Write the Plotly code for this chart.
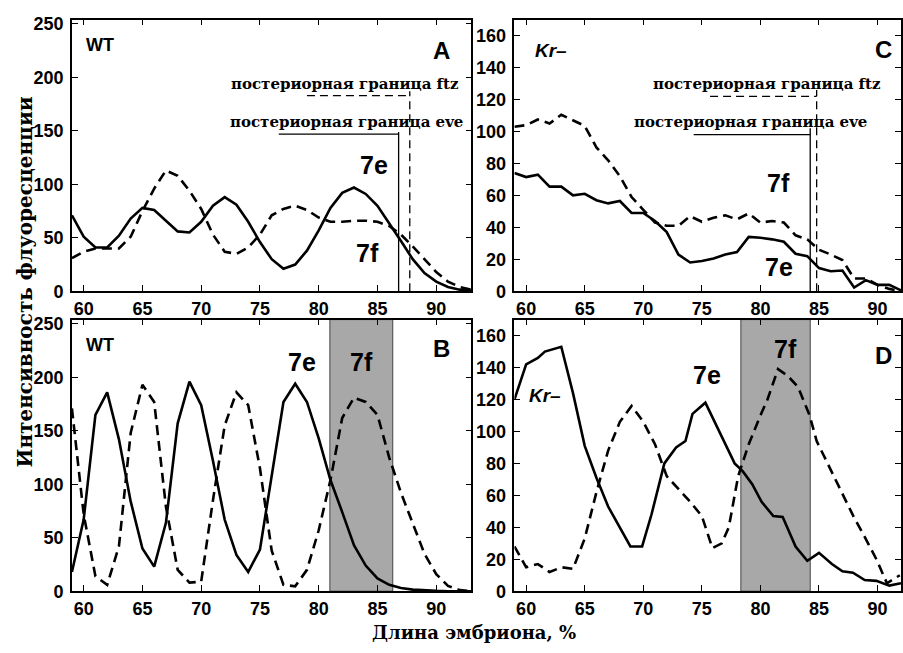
import plotly.graph_objects as go

W, H = 903, 653

# ---------------- data ----------------
x_A = list(range(59, 94))
wt_eve_A = [71, 51, 41, 41, 52, 68, 78, 76, 66, 56, 55, 65, 80, 88, 81, 65, 46, 30, 21, 25,
            38, 57, 78, 92, 97, 91, 80, 64, 47, 30, 17, 9, 4, 1.5, 1]
wt_ftz_A = [31, 37, 40, 40, 40, 51, 75, 96, 113, 108, 94, 77, 53, 37, 35, 41, 53, 71, 77, 80,
            76, 69, 65, 65, 66, 66, 65, 61, 53, 42, 30, 18, 9, 4, 1.5]

x_B = list(range(59, 94))
wt_eve_B = [18, 67, 165, 186, 142, 84, 40, 23, 64, 157, 196, 174, 122, 67, 34, 18, 39, 110, 177, 194,
            177, 143, 104, 74, 43, 24, 12, 6, 3, 1.5, 0.7, 0.3, 0, 0, 0]
wt_ftz_B = [171, 72, 14, 6, 42, 148, 193, 177, 79, 20, 8, 9, 85, 155, 186, 174, 115, 38, 6, 4.6,
            20, 57, 104, 162, 181, 177, 165, 125, 92, 63, 35, 16, 5, 1, 0]

x_C = list(range(59, 93))
kr_eve_C = [74, 71.5, 73, 65.5, 65.5, 60, 61, 57, 55, 56.5, 49, 49, 44, 37, 23, 18, 19, 20.5, 23, 24.5,
            34, 33.5, 32.5, 31, 23.5, 22, 14.5, 12.5, 13, 2.3, 7, 4, 4, 0.6]
kr_ftz_C = [103, 104, 107.5, 105, 110.5, 107, 103.5, 90, 82, 72, 59, 51, 43, 41, 41, 47, 43.5, 46, 47.5, 45,
            48.7, 43, 44, 43, 35, 32.5, 26, 23, 19.5, 8, 8, 4, 1.5, 0]

x_D_eve = [59, 60, 61, 61.6, 63, 64, 65, 66, 67, 68, 68.9, 69.9, 70.7, 71.8, 72.8, 73.6, 74.2, 75.3,
           76.5, 77.8, 78.5, 79.3, 80.1, 81.1, 81.9, 83, 84, 85, 86.1, 87, 87.9, 88.9, 89.9, 91, 92]
kr_eve_D = [120, 142, 146, 150, 153, 124, 91, 71, 53, 40, 28, 28, 48, 80, 90, 94, 111, 118,
            100, 80, 75, 67, 56, 47, 46.5, 28, 19, 24, 17, 12.5, 11.6, 7, 6.5, 3.5, 5]
x_D_ftz = [59, 60, 61, 62, 63, 64, 65, 66, 67, 68, 69, 70, 71, 72, 73, 74, 75, 75.9, 76.7, 77.3,
           78.1, 79, 80, 80.6, 81.5, 82.3, 83.2, 84.2, 84.8, 85.6, 86.4, 87.2, 88, 88.9, 89.9, 90.8, 91.9]
kr_ftz_D = [28, 15, 17, 12, 15, 14, 33, 62, 88, 106, 116, 106, 92, 72, 64, 56, 47, 27, 30, 40,
            72, 92, 110, 120, 139, 135, 128, 110, 94, 82, 70, 58, 46, 34, 20, 5, 10]

# boundaries / bands (x in % embryo length)
band_B = [80.95, 86.3]
band_D = [78.33, 84.25]
bound_A = {"eve": 86.8, "ftz": 87.75}
bound_C = {"eve": 84.25, "ftz": 84.8}

x_ticks = [60, 65, 70, 75, 80, 85, 90]
y_ticks_wt = [0, 50, 100, 150, 200, 250]
y_ticks_kr = [0, 20, 40, 60, 80, 100, 120, 140, 160]

# ---------------- figure ----------------
def px(x):
    return x / W

def py(y):
    return 1 - y / H

fig = go.Figure()

solid = dict(color="black", width=2.6)
dashed = dict(color="black", width=2.6, dash="10px,6px")

fig.add_trace(go.Scatter(x=x_A, y=wt_eve_A, mode="lines", line=solid, xaxis="x", yaxis="y"))
fig.add_trace(go.Scatter(x=x_A, y=wt_ftz_A, mode="lines", line=dashed, xaxis="x", yaxis="y"))
fig.add_trace(go.Scatter(x=x_C, y=kr_eve_C, mode="lines", line=solid, xaxis="x2", yaxis="y2"))
fig.add_trace(go.Scatter(x=x_C, y=kr_ftz_C, mode="lines", line=dashed, xaxis="x2", yaxis="y2"))
fig.add_trace(go.Scatter(x=x_B, y=wt_eve_B, mode="lines", line=solid, xaxis="x3", yaxis="y3"))
fig.add_trace(go.Scatter(x=x_B, y=wt_ftz_B, mode="lines", line=dashed, xaxis="x3", yaxis="y3"))
fig.add_trace(go.Scatter(x=x_D_eve, y=kr_eve_D, mode="lines", line=solid, xaxis="x4", yaxis="y4"))
fig.add_trace(go.Scatter(x=x_D_ftz, y=kr_ftz_D, mode="lines", line=dashed, xaxis="x4", yaxis="y4"))

tickfont = dict(family="Liberation Sans", size=18, color="black", weight="bold")

def xax(dom, rng, anchor):
    return dict(domain=dom, range=rng, anchor=anchor, showgrid=False, zeroline=False,
                showline=True, linecolor="black", linewidth=1.6, mirror="ticks",
                ticks="inside", ticklen=6, tickwidth=1.2, tickcolor="black",
                tickvals=x_ticks, tickfont=tickfont, ticklabelstandoff=0)

def yax(dom, rng, anchor, tv):
    return dict(domain=dom, range=rng, anchor=anchor, showgrid=False, zeroline=False,
                showline=True, linecolor="black", linewidth=1.6, mirror="ticks",
                ticks="inside", ticklen=6, tickwidth=1.2, tickcolor="black",
                tickvals=tv, tickfont=tickfont, ticklabelstandoff=3)

dom_left = [px(72), px(472)]
dom_right = [px(515), px(902)]
dom_top = [py(293), py(15)]
dom_bot = [py(600), py(322)]

fig.update_layout(
    width=W, height=H, margin=dict(l=0, r=0, t=0, b=0),
    paper_bgcolor="white", plot_bgcolor="white", showlegend=False,
    xaxis=xax(dom_left, [59, 93], "y"),
    yaxis=yax(dom_top, [0, 254], "x", y_ticks_wt),
    xaxis2=xax(dom_right, [59, 92], "y2"),
    yaxis2=yax(dom_top, [0, 170], "x2", y_ticks_kr),
    xaxis3=xax(dom_left, [59, 93], "y3"),
    yaxis3=yax(dom_bot, [0, 254], "x3", y_ticks_wt),
    xaxis4=xax(dom_right, [59, 92], "y4"),
    yaxis4=yax(dom_bot, [0, 170], "x4", y_ticks_kr),
)

shapes = []
# shaded bands
shapes.append(dict(type="rect", xref="x3", yref="y3 domain", x0=band_B[0], x1=band_B[1], y0=0, y1=1,
                   fillcolor="#a8a8a8", line=dict(color="#444", width=1), layer="below"))
shapes.append(dict(type="rect", xref="x4", yref="y4 domain", x0=band_D[0], x1=band_D[1], y0=0, y1=1,
                   fillcolor="#a8a8a8", line=dict(color="#444", width=1), layer="below"))

thin = dict(color="black", width=1.3)
thin_d = dict(color="black", width=1.3, dash="8px,5px")
# panel A boundaries
shapes += [
    dict(type="line", xref="x", yref="y", x0=bound_A["eve"], x1=bound_A["eve"], y0=0, y1=149, line=thin),
    dict(type="line", xref="x", yref="y", x0=76.6, x1=bound_A["eve"], y0=147, y1=147, line=thin),
    dict(type="line", xref="x", yref="y", x0=bound_A["ftz"], x1=bound_A["ftz"], y0=0, y1=187, line=thin_d),
    dict(type="line", xref="x", yref="y", x0=79.0, x1=bound_A["ftz"], y0=183, y1=183, line=thin_d),
]
# panel C boundaries
shapes += [
    dict(type="line", xref="x2", yref="y2", x0=bound_C["eve"], x1=bound_C["eve"], y0=0, y1=102, line=thin),
    dict(type="line", xref="x2", yref="y2", x0=74.3, x1=bound_C["eve"], y0=98, y1=98, line=thin),
    dict(type="line", xref="x2", yref="y2", x0=bound_C["ftz"], x1=bound_C["ftz"], y0=0, y1=126, line=thin_d),
    dict(type="line", xref="x2", yref="y2", x0=75.7, x1=bound_C["ftz"], y0=122, y1=122, line=thin_d),
]
fig.update_layout(shapes=shapes)

sans = "Liberation Sans"
serif = "DejaVu Serif"

def ann(text, x, y, size, family=sans, bold=True, angle=0):
    fig.add_annotation(text=text, x=px(x), y=py(y), xref="paper", yref="paper",
                       showarrow=False, xanchor="center", yanchor="middle", textangle=angle,
                       font=dict(family=family, size=size, color="black",
                                 weight="bold" if bold else "normal"))

# panel labels
ann("A", 441.5, 46.5, 24)
ann("B", 441.5, 351.5, 24)
ann("C", 884, 46, 24)
ann("D", 884, 358.5, 24)
ann("WT", 100, 41, 18)
ann("WT", 100, 347.5, 18)
ann("<i>Kr–</i>", 551.5, 47, 19)
ann("<i>Kr–</i>", 545.5, 400, 19)
ann("7e", 374.5, 163.5, 25)
ann("7f", 368, 254, 25)
ann("7e", 302.5, 365.5, 25)
ann("7f", 361.5, 365.5, 25)
ann("7f", 779, 182, 25)
ann("7e", 779.5, 268.5, 25)
ann("7e", 707.5, 378.5, 25)
ann("7f", 786, 352.5, 25)

# boundary captions
ann("постериорная граница ftz", 345.5, 80.5, 15, family=serif, bold=True)
ann("постериорная граница eve", 346.5, 119.5, 15, family=serif, bold=True)
ann("постериорная граница ftz", 768, 80.5, 15, family=serif, bold=True)
ann("постериорная граница eve", 751, 119.5, 15, family=serif, bold=True)

# axis titles
ann("Интенсивность флуоресценции", 26, 283, 20, family=serif, bold=True, angle=-90)
ann("Длина эмбриона, %", 475, 642, 18, family=serif, bold=True)

fig.write_html("out.html")
